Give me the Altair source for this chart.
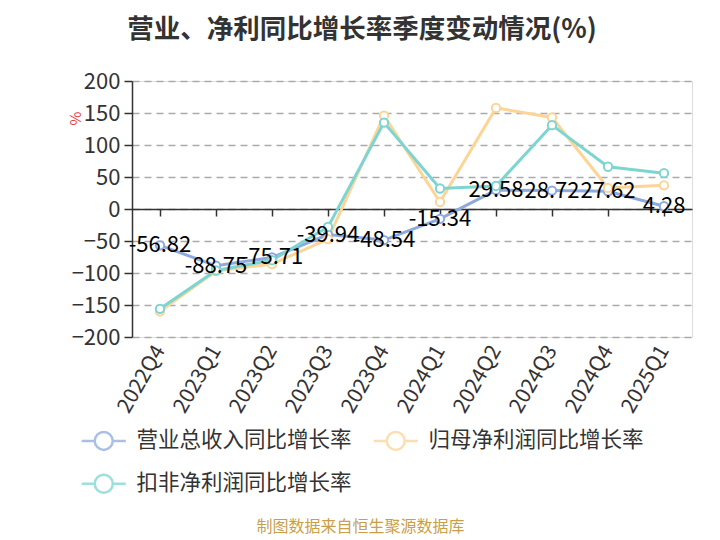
import altair as alt
import pandas as pd

quarters = ["2022Q4", "2023Q1", "2023Q2", "2023Q3", "2023Q4",
            "2024Q1", "2024Q2", "2024Q3", "2024Q4", "2025Q1"]
series_names = ["营业总收入同比增长率", "归母净利润同比增长率", "扣非净利润同比增长率"]
revenue = [-56.82, -88.75, -75.71, -39.94, -48.54, -15.34, 29.58, 28.72, 27.62, 4.28]
net_profit = [-160, -97, -86, -47, 146, 11, 158, 143, 33, 37]
deducted_profit = [-156, -96, -80, -28, 135, 32, 36, 131, 66, 56]
colors = ["#8eaadc", "#fcd596", "#7dd5d2"]
y_ticks = [-200, -150, -100, -50, 0, 50, 100, 150, 200]

rows = []
for name, vals in zip(series_names, [revenue, net_profit, deducted_profit]):
    for q, v in zip(quarters, vals):
        rows.append({"quarter": q, "series": name, "value": v})
df = pd.DataFrame(rows)
df_rev = pd.DataFrame({"quarter": quarters, "value": revenue,
                       "label": [f"{v:.2f}" for v in revenue]})

FONT = "Noto Sans CJK SC"

color_scale = alt.Scale(domain=series_names, range=colors)
y_scale = alt.Scale(domain=[-200, 200], nice=False, zero=False)
x_scale = alt.Scale(paddingInner=0, paddingOuter=0)

legend_path = "M-2.45,0L-1,0M1,0L2.45,0M-1,0A1,1 0 1,1 1,0A1,1 0 1,1 -1,0"

y_axis = alt.Axis(values=y_ticks, labelOverlap=False, title="%", titleColor="#e8413f",
                  titleFontSize=15, titleFontWeight="normal", titleX=-57, titleY=37,
                  titleAngle=270, titleAlign="center", titleBaseline="middle",
                  titleFont=FONT, labelFontSize=22, labelColor="#333333", labelFont=FONT,
                  labelPadding=4, domainColor="#333333", domainWidth=1.5,
                  tickColor="#333333", tickSize=8, tickWidth=1.5,
                  grid=True, gridColor="#aaaaaa", gridDash=[7, 5], gridWidth=1.5)

x_label_axis = alt.Axis(orient="bottom", domain=False, ticks=False, labelAngle=-60,
                        labelAlign="right", labelBaseline="middle", labelFontSize=21,
                        labelColor="#333333", labelFont=FONT, labelPadding=10,
                        labelOverlap=False, grid=False,
                        title="制图数据来自恒生聚源数据库",
                        titleColor="#c9a04a", titleFontSize=16, titleFontWeight="normal",
                        titleFont=FONT, titleX=228, titleY=189, titleAlign="center",
                        titleBaseline="middle")

x_zero_axis = alt.Axis(orient="bottom", offset=-128, labels=False, domain=True,
                       ticks=True, bandPosition=0, tickSize=7, tickWidth=1.5,
                       domainColor="#333333", domainWidth=1.5, tickColor="#333333",
                       grid=False, title=None)

legend = alt.Legend(title=None, orient="none", legendX=-39, legendY=349, columns=2,
                    direction="horizontal", columnPadding=16, rowPadding=14,
                    symbolType=legend_path, symbolSize=324, symbolStrokeWidth=2.5,
                    symbolFillColor="white", symbolOpacity=0.75, labelFontSize=21.5,
                    labelColor="#333333", labelFont=FONT, labelOffset=22, labelLimit=400)

base = alt.Chart(df)

lines = base.mark_line(strokeWidth=3).encode(
    x=alt.X("quarter:N", sort=quarters, axis=x_zero_axis, scale=x_scale),
    y=alt.Y("value:Q", scale=y_scale, axis=y_axis),
    color=alt.Color("series:N", scale=color_scale, sort=series_names, legend=legend),
)

points = base.mark_point(shape="circle", fill="white", fillOpacity=1, filled=False,
                         size=70, strokeWidth=2, opacity=1).encode(
    x=alt.X("quarter:N", sort=quarters, axis=x_label_axis, scale=x_scale),
    y=alt.Y("value:Q", scale=y_scale, axis=y_axis),
    color=alt.Color("series:N", scale=color_scale, sort=series_names, legend=None),
)

labels = alt.Chart(df_rev).mark_text(fontSize=22, color="#000000", font=FONT,
                                     align="center", baseline="middle").encode(
    x=alt.X("quarter:N", sort=quarters, axis=None, scale=x_scale),
    y=alt.Y("value:Q", scale=y_scale, axis=y_axis),
    text="label:N",
)

chart = alt.layer(lines, points, labels).resolve_axis(x="independent").properties(
    width=560, height=256,
    autosize=alt.AutoSizeParams(type="none"),
    padding={"left": 124, "top": 73, "right": 20, "bottom": 202},
    title=alt.TitleParams("营业、净利同比增长率季度变动情况(%)", fontSize=26.5,
                          fontWeight="bold", color="#333333", font=FONT,
                          anchor="middle", dx=-50, offset=6, baseline="alphabetic"),
).configure_view(stroke=None).configure(background="white")

chart.save("out.html", embed_options={"renderer": "svg", "actions": False})
